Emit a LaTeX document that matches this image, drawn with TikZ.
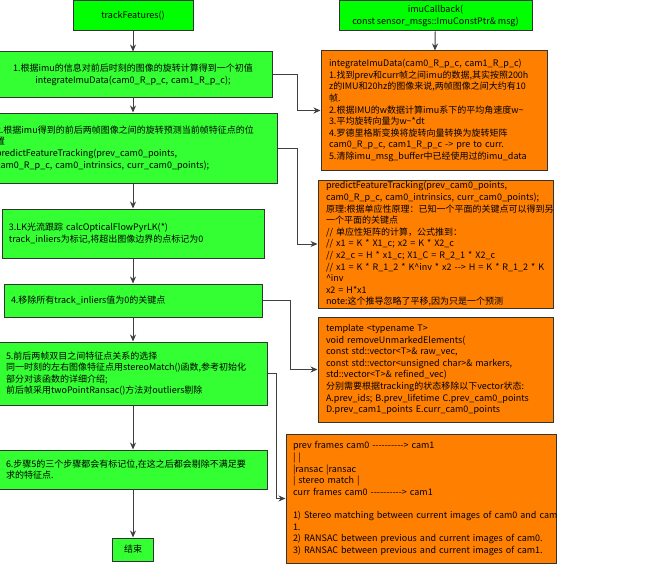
\documentclass[tikz,border=0pt]{standalone}
\usepackage{fontspec}
\setmainfont{Noto Sans CJK SC}[Ligatures=TeXOff]
\usetikzlibrary{arrows.meta}
\definecolor{topgreen}{HTML}{00FF00}
\definecolor{stepgreen}{HTML}{33FF33}
\definecolor{boxorange}{HTML}{FF8000}
\definecolor{edgegray}{HTML}{333333}
\definecolor{arrowgray}{HTML}{404040}
\hfuzz=20pt
\begin{document}
\begin{tikzpicture}[x=1pt,y=-1pt,
  every node/.style={font=\fontsize{9}{11.6}\selectfont, text=black},
  topbox/.style={draw=edgegray, line width=1pt, fill=topgreen, align=center, inner sep=0pt},
  greenbox/.style={draw=edgegray, line width=1pt, fill=stepgreen, inner ysep=0pt},
  orangebox/.style={draw=edgegray, line width=1pt, fill=boxorange, inner ysep=0pt, align=left},
  arr/.style={draw=arrowgray, line width=1pt, -{Stealth[length=7pt,width=6pt]}}]
\useasboundingbox (0,0) rectangle (645,578);
\fill[white] (0,0) rectangle (645,578);

% left column
\node[topbox, minimum width=120pt, minimum height=30pt] (tf) at (133,15.5) {trackFeatures()};
\node[greenbox, align=center, inner xsep=7pt, text width=264pt, minimum height=45pt] (b1) at (133,74.5)
  {1.根据imu的信息对前后时刻的图像的旋转计算得到一个初值\\integrateImuData(cam0\_R\_p\_c, cam1\_R\_p\_c);};
\node[greenbox, align=left, inner xsep=7pt, text width=274pt, minimum height=70pt] (b2) at (133,148)
  {2.根据imu得到的前后两帧图像之间的旋转预测当前帧特征点的位\\置\\predictFeatureTracking(prev\_cam0\_points,\\\mbox{cam0\_R\_p\_c, cam0\_intrinsics, curr\_cam0\_points);}};
\node[greenbox, align=left, inner xsep=7pt, text width=248pt, minimum height=49pt] (b3) at (133,233.5)
  {3.LK光流跟踪 calcOpticalFlowPyrLK(*)\\track\_inliers为标记,将超出图像边界的点标记为0};
\node[greenbox, align=left, inner xsep=7pt, text width=244pt, minimum height=33pt] (b4) at (133,300.5)
  {4.移除所有track\_inliers值为0的关键点};
\node[greenbox, align=left, inner xsep=7pt, text width=254pt, minimum height=63pt] (b5) at (133,373.5)
  {5.前后两帧双目之间特征点关系的选择\\同一时刻的左右图像特征点用stereoMatch()函数,参考初始化\\部分对该函数的详细介绍;\\前后帧采用twoPointRansac()方法对outliers剔除};
\node[greenbox, align=left, inner xsep=7pt, text width=254pt, minimum height=39pt] (b6) at (133,469.5)
  {6.步骤5的三个步骤都会有标记位,在这之后都会剔除不满足要\\求的特征点.};
\node[greenbox, align=center, inner xsep=0pt, minimum width=41pt, minimum height=23pt] (end) at (133,549.5) {结束};

% right column
\node[topbox, minimum width=193pt, minimum height=30pt] (imu) at (435.5,16)
  {imuCallback(\\const sensor\_msgs::ImuConstPtr\& msg)};
\node[orangebox, inner xsep=8pt, text width=210pt, minimum height=119pt] (o1) at (434,110.5)
  {integrateImuData(cam0\_R\_p\_c, cam1\_R\_p\_c)\\
   1.找到prev和curr帧之间imu的数据,其实按照200h\\
   z的IMU和20hz的图像来说,两帧图像之间大约有10\\
   帧.\\
   2.根据IMU的w数据计算imu系下的平均角速度w\textasciitilde\\
   3.平均旋转向量为w\textasciitilde*dt\\
   4.罗德里格斯变换将旋转向量转换为旋转矩阵\\
   \mbox{cam0\_R\_p\_c, cam1\_R\_p\_c -> pre to curr.}\\
   5.清除imu\_msg\_buffer中已经使用过的imu\_data};
\node[orangebox, inner xsep=8pt, text width=219pt, minimum height=128pt] (o2) at (435.5,244)
  {predictFeatureTracking(prev\_cam0\_points,\\
   \mbox{cam0\_R\_p\_c, cam0\_intrinsics, curr\_cam0\_points);}\\
   原理:根据单应性原理：已知一个平面的关键点可以得到另\\
   一个平面的关键点\\
   // 单应性矩阵的计算，公式推到：\\
   // x1 = K * X1\_c; x2 = K * X2\_c\\
   \mbox{// x2\_c = H * x1\_c; X1\_C = R\_2\_1 * X2\_c}\\
   \mbox{// x1 = K * R\_1\_2 * K\textasciicircum inv * x2 --> H = K * R\_1\_2 * K}\\
   \textasciicircum inv\\
   x2 = H*x1\\
   note:这个推导忽略了平移,因为只是一个预测};
\node[orangebox, inner xsep=8pt, text width=219pt, minimum height=105pt] (o3) at (435.5,369.5)
  {template <typename T>\\
   void removeUnmarkedElements(\\
   const std::vector<T>\& raw\_vec,\\
   \mbox{const std::vector<unsigned char>\& markers,}\\
   std::vector<T>\& refined\_vec)\\
   分别需要根据tracking的状态移除以下vector状态:\\
   \mbox{A.prev\_ids; B.prev\_lifetime C.prev\_cam0\_points}\\
   D.prev\_cam1\_points E.curr\_cam0\_points};
\node[orangebox, inner xsep=7pt, text width=256pt, minimum height=129pt] (o4) at (421,498.5)
  {prev frames cam0 ----------> cam1\\
   | |\\
   |ransac |ransac\\
   | stereo match |\\
   curr frames cam0 ----------> cam1\\[11.6pt]
   \mbox{1) Stereo matching between current images of cam0 and cam}\\
   1.\\
   \mbox{2) RANSAC between previous and current images of cam0.}\\
   \mbox{3) RANSAC between previous and current images of cam1.}};

% main flow
\draw[arr] (tf) -- (b1);
\draw[arr] (b1) -- (b2);
\draw[arr] (b2) -- (b3);
\draw[arr] (b3) -- (b4);
\draw[arr] (b4) -- (b5);
\draw[arr] (b5) -- (b6);
\draw[arr] (b6) -- (end);
\draw[arr] (imu) -- (o1);

% side connectors
\draw[arr] (b1.east) -- ++(25,0) |- (o1.west);
\draw[arr] (b2.east) -- ++(20,0) |- (o2.west);
\draw[arr] (b4.east) -- ++(28,0) |- (o3.west);
\draw[arr] (b5.east) -- ++(9,0) |- (o4.west);
\end{tikzpicture}
\end{document}
